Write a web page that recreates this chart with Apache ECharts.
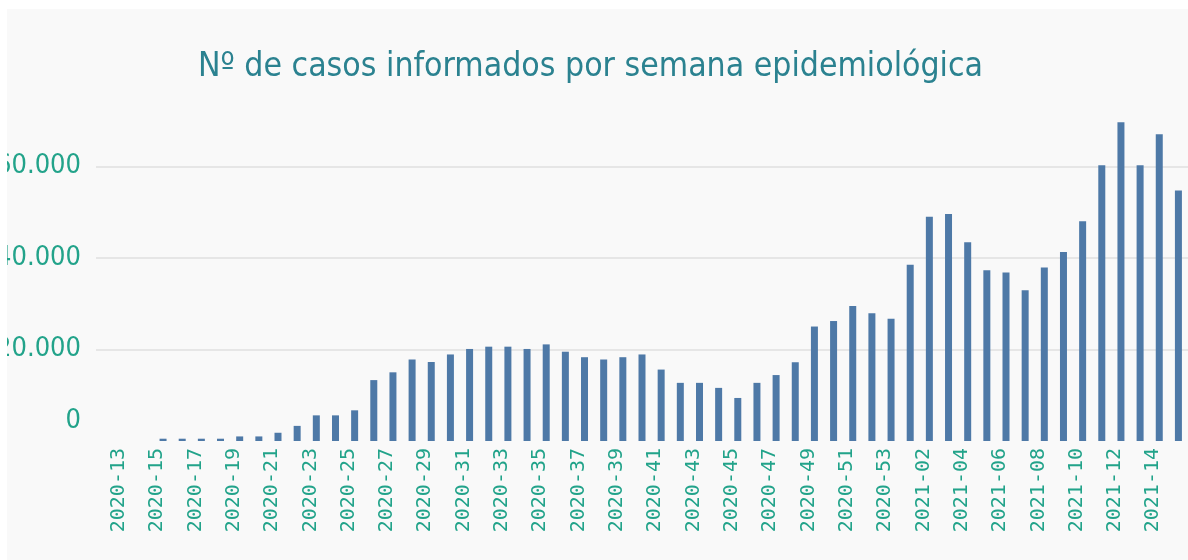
<!DOCTYPE html>
<html>
<head>
<meta charset="utf-8">
<script src="https://cdn.jsdelivr.net/npm/echarts@6/dist/echarts.min.js"></script>
<style>
  html, body {
    margin: 0;
    padding: 0;
    background: #ffffff;
  }
  #chart {
    position: absolute;
    left: 7px;
    top: 9px;
    width: 1181px;
    height: 551px;
    overflow: hidden;
    background: #f9f9f9;
  }
</style>
</head>
<body>
<div id="chart"></div>
<script>
// semanas epidemiológicas
const weeks = [
  "2020-13", "2020-14", "2020-15", "2020-16", "2020-17", "2020-18", "2020-19",
  "2020-20", "2020-21", "2020-22", "2020-23", "2020-24", "2020-25", "2020-26",
  "2020-27", "2020-28", "2020-29", "2020-30", "2020-31", "2020-32", "2020-33",
  "2020-34", "2020-35", "2020-36", "2020-37", "2020-38", "2020-39", "2020-40",
  "2020-41", "2020-42", "2020-43", "2020-44", "2020-45", "2020-46", "2020-47",
  "2020-48", "2020-49", "2020-50", "2020-51", "2020-52", "2020-53",
  "2021-01", "2021-02", "2021-03", "2021-04", "2021-05", "2021-06", "2021-07",
  "2021-08", "2021-09", "2021-10", "2021-11", "2021-12", "2021-13", "2021-14",
  "2021-15"
];

// nº de casos por semana
const cases = [
  0, 0, 500, 500, 500, 500, 1000,
  1000, 1800, 3300, 5600, 5600, 6700, 13300,
  15000, 17800, 17250, 18900, 20100, 20600, 20600,
  20100, 21100, 19500, 18300, 17800, 18300, 18900,
  15600, 12700, 12700, 11600, 9400, 12700, 14400,
  17200, 25000, 26200, 29500, 27900, 26700,
  38500, 49000, 49600, 43400, 37300, 36800, 32900,
  37900, 41300, 48000, 60200, 69600, 60200, 67000,
  54700
];

const yTicks = [0, 20000, 40000, 60000];

const title = "Nº de casos informados por semana epidemiológica";

// an empty slot in front gives the plot the same left padding as the original
let categories = [""].concat(weeks);
let values = [null].concat(cases);

function fmt(v) {
  return String(v).replace(/\B(?=(\d{3})+(?!\d))/g, ".");
}

let chart = echarts.init(document.getElementById("chart"));

let option = {
  backgroundColor: "#f9f9f9",
  animation: false,
  title: {
    text: title,
    left: 186,
    top: 36,
    textStyle: {
      fontFamily: "DejaVu Sans Condensed",
      fontSize: 33.5,
      fontWeight: "normal",
      color: "#2b8290",
    },
  },
  grid: {
    left: 89,
    right: 0,
    top: 84,
    bottom: 119,
    outerBoundsMode: "none",
  },
  xAxis: {
    type: "category",
    data: categories,
    axisLine: { show: false },
    axisTick: { show: false },
    splitLine: { show: false },
    axisLabel: {
      rotate: 90,
      margin: 7,
      interval: function (idx) {
        return idx >= 1 && (idx - 1) % 2 === 0;
      },
      fontFamily: "DejaVu Sans Mono",
      fontSize: 20,
      lineHeight: 12,
      verticalAlign: "bottom",
      color: "#22a38a",
    },
  },
  yAxis: {
    type: "value",
    min: 0,
    max: 76000,
    interval: 20000,
    axisLine: { show: false },
    axisTick: { show: false },
    splitLine: {
      show: true,
      showMinLine: false,
      showMaxLine: false,
      lineStyle: { color: "#e6e6e6", width: 2 },
    },
    axisLabel: {
      margin: 15,
      showMaxLabel: false,
      fontFamily: "DejaVu Sans Condensed",
      fontSize: 27,
      color: "#22a38a",
      formatter: function (v) {
        if (yTicks.indexOf(v) < 0) return "";
        if (v === 0) return "{z|0}";
        return fmt(v);
      },
      rich: {
        z: {
          fontFamily: "DejaVu Sans Condensed",
          fontSize: 27,
          color: "#22a38a",
          padding: [0, 0, 40, 0],
        },
      },
    },
  },
  series: [
    {
      type: "bar",
      data: values,
      barWidth: 7,
      itemStyle: { color: "#4e79a7" },
    },
  ],
};

chart.setOption(option);
</script>
</body>
</html>
